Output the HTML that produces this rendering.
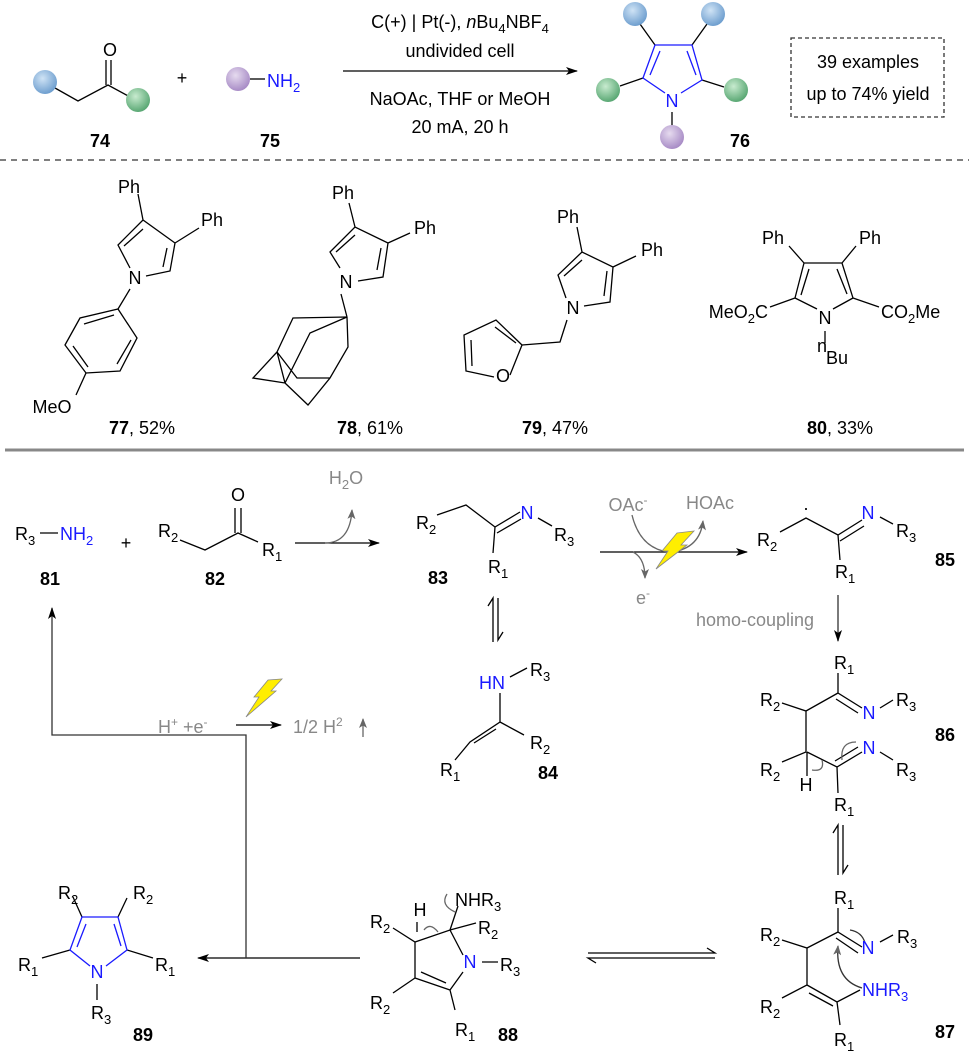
<!DOCTYPE html>
<html><head><meta charset="utf-8"><style>
html,body{margin:0;padding:0;background:#fff}
svg{display:block}
text{font-family:"Liberation Sans",Arial,sans-serif;font-size:18px;fill:#000}
.b{font-weight:bold}
.g{fill:#888}
.bl{fill:#1a1aff}
</style></head><body>
<svg width="969" height="1055" viewBox="0 0 969 1055" xmlns="http://www.w3.org/2000/svg">
<defs>
<radialGradient id="gb" cx="40%" cy="35%" r="65%"><stop offset="0" stop-color="#cfe3f5"/><stop offset="1" stop-color="#6f9fcf"/></radialGradient>
<radialGradient id="gg" cx="40%" cy="35%" r="65%"><stop offset="0" stop-color="#c8ebcf"/><stop offset="1" stop-color="#5aa874"/></radialGradient>
<radialGradient id="gp" cx="40%" cy="35%" r="65%"><stop offset="0" stop-color="#e6dbef"/><stop offset="1" stop-color="#a88cc6"/></radialGradient>
<marker id="ah" markerWidth="12" markerHeight="8" refX="11" refY="4" orient="auto" markerUnits="userSpaceOnUse"><path d="M0,0 L12,4 L0,8 L3,4z" fill="#000"/></marker>
<marker id="ahg" markerWidth="10" markerHeight="8" refX="9" refY="4" orient="auto" markerUnits="userSpaceOnUse"><path d="M0,0 L10,4 L0,8 L2.5,4z" fill="#666"/></marker>
</defs>
<g stroke="#000" stroke-width="1.3" fill="none">
<path d="M55,88 L78,101 L108,85 L130,97"/>
<path d="M106,85 V60 M111,85 V60"/>
<path d="M250,79 H265"/>
<path d="M343,71 H577" marker-end="url(#ah)"/>
<path d="M640,24 L655,45 M707,24 L692,45 M620,86 L643,78 M724,87 L702,80 M672,112 V126"/>
<g stroke="#1a1aff"><path d="M665,93 L643,78 L655,45 L692,45 L702,80 L681,93 M650,75 L660,51 M687,51 L696,75"/></g>
<rect x="791" y="38" width="153" height="79" stroke="#333" stroke-dasharray="4,3"/>
</g>
<circle cx="45" cy="82" r="12" fill="url(#gb)"/>
<circle cx="138" cy="100" r="12" fill="url(#gg)"/>
<circle cx="238" cy="79" r="12" fill="url(#gp)"/>
<circle cx="635" cy="14" r="12" fill="url(#gb)"/>
<circle cx="713" cy="14" r="12" fill="url(#gb)"/>
<circle cx="608" cy="90" r="12" fill="url(#gg)"/>
<circle cx="736" cy="90" r="12" fill="url(#gg)"/>
<circle cx="672" cy="137" r="12" fill="url(#gp)"/>
<text x="110" y="56" text-anchor="middle">O</text>
<text x="182" y="84" text-anchor="middle">+</text>
<text x="267" y="87" class="bl">NH<tspan font-size="13" dy="5">2</tspan></text>
<text x="100" y="147" class="b" text-anchor="middle">74</text>
<text x="270" y="147" class="b" text-anchor="middle">75</text>
<text x="672" y="107" class="bl" text-anchor="middle">N</text>
<text x="740" y="147" class="b" text-anchor="middle">76</text>
<text x="460" y="28" text-anchor="middle">C(+) | Pt(-), <tspan font-style="italic">n</tspan>Bu<tspan font-size="13" dy="5">4</tspan><tspan dy="-5">NBF</tspan><tspan font-size="13" dy="5">4</tspan></text>
<text x="460" y="57" text-anchor="middle">undivided cell</text>
<text x="460" y="105" text-anchor="middle">NaOAc, THF or MeOH</text>
<text x="460" y="133" text-anchor="middle">20 mA, 20 h</text>
<text x="868" y="68" text-anchor="middle">39 examples</text>
<text x="868" y="100" text-anchor="middle">up to 74% yield</text>
<line x1="0" y1="160" x2="969" y2="160" stroke="#333" stroke-width="1.2" stroke-dasharray="6,5"/>

<g stroke="#000" stroke-width="1.3" fill="none">
<path d="M130,268 L118,245 L143,220 L175,243 L170,271 L146,276 M124,246 L143,229 M167,248 L163,267 M143,220 L138,194 M175,243 L199,228"/>
<path d="M130,289 L118,309"/>
<path d="M118,309 L137,338 L120,371 L86,373 L65,345 L80,318 Z"/>
<path d="M131,340 L117,364 M73,346 L88,367 M84,324 L114,315 M86,373 L76,395"/>
<path d="M340,268 L330,252 L355,227 L388,243 L383,277 L358,281 M336,252 L355,235 M381,248 L377,270 M355,227 L349,203 M388,243 L410,233 M341,294 L347,317"/>
<path d="M347,317 L293,318 L277,352 L253,378 L285,383 L277,352 M285,383 L308,405 L330,378 L348,347 L347,317 M347,317 L310,333 L285,383 M277,352 L297,378 L330,378"/>
<path d="M566,298 L558,275 L582,252 L613,267 L610,302 L584,306 M564,276 L582,260 M607,271 L604,296 M582,252 L577,227 M613,267 L636,256 M567,320 L560,342 L522,345"/>
<path d="M522,345 L496,320 L464,335 L466,371 L494,377 M510,375 L522,345 M516,343 L495,327 M471,340 L472,366"/>
<path d="M817,309 L795,298 L804,263 L842,263 L853,298 L833,309 M801,295 L809,269 M837,269 L847,294 M804,263 L789,246 M842,263 L856,246 M795,298 L770,307 M853,298 L879,307 M825,331 V343"/>
</g>
<text x="129" y="193" text-anchor="middle">Ph</text>
<text x="212" y="226" text-anchor="middle">Ph</text>
<text x="135" y="284" text-anchor="middle">N</text>
<text x="52" y="413" text-anchor="middle">MeO</text>
<text x="142" y="434" text-anchor="middle"><tspan class="b">77</tspan>, 52%</text>
<text x="343" y="199" text-anchor="middle">Ph</text>
<text x="425" y="234" text-anchor="middle">Ph</text>
<text x="346" y="288" text-anchor="middle">N</text>
<text x="370" y="434" text-anchor="middle"><tspan class="b">78</tspan>, 61%</text>
<text x="568" y="223" text-anchor="middle">Ph</text>
<text x="652" y="256" text-anchor="middle">Ph</text>
<text x="573" y="314" text-anchor="middle">N</text>
<text x="503" y="382" text-anchor="middle">O</text>
<text x="555" y="434" text-anchor="middle"><tspan class="b">79</tspan>, 47%</text>
<text x="773" y="244" text-anchor="middle">Ph</text>
<text x="870" y="244" text-anchor="middle">Ph</text>
<text x="768" y="318" text-anchor="end">MeO<tspan font-size="13" dy="5">2</tspan><tspan dy="-5">C</tspan></text>
<text x="881" y="318">CO<tspan font-size="13" dy="5">2</tspan><tspan dy="-5">Me</tspan></text>
<text x="825" y="324" text-anchor="middle">N</text>
<text x="817" y="352" font-size="12">n</text>
<text x="826" y="364">Bu</text>
<text x="840" y="434" text-anchor="middle"><tspan class="b">80</tspan>, 33%</text>
<line x1="5" y1="450" x2="964" y2="450" stroke="#888" stroke-width="3"/>

<g stroke="#000" stroke-width="1.3" fill="none">
<path d="M40,533 H58"/>
<path d="M180,540 L205,550 L238,533 L258,542 M235,533 V508 M241,533 V508"/>
<path d="M295,543 H379" marker-end="url(#ah)"/>
<path d="M325,543 Q350,543 352,510" stroke="#666" marker-end="url(#ahg)"/>
<path d="M437,515 L466,505 L495,527 L520,512 M497,533 L521,519 M538,518 L552,526 M495,527 L493,553"/>
<path d="M493,642 V598 L488,606 M498,598 V640 L503,632"/>
<path d="M510,677 L527,668 M500,693 V722 L470,742 L455,760 M496,729 L474,743 M500,722 L524,735"/>
<path d="M600,552 H747" marker-end="url(#ah)"/>
<path d="M632,515 Q640,548 668,552" stroke="#666"/>
<path d="M672,552 Q700,548 703,521" stroke="#666" marker-end="url(#ahg)"/>
<path d="M633,552 Q645,558 645,578" stroke="#666" marker-end="url(#ahg)"/>
<path d="M780,532 L806,518 L838,535 L862,520 M840,541 L864,526 M880,517 L893,524 M838,535 L840,560"/>
<path d="M838,595 V641" stroke="#333" marker-end="url(#ah)"/>
<path d="M838,673 V693 L862,708 M836,699 L858,713 M880,708 L893,700 M838,693 L806,711 L782,703 M806,711 V752 L782,762 M807,752 L837,767 L862,752 M835,761 L858,747 M880,752 L893,760 M807,752 V776 M837,767 L838,793"/>
<path d="M842,760 Q840,742 856,742" stroke="#666"/>
<path d="M812,770 Q825,772 822,760" stroke="#666"/>
<path d="M838,875 V825 L833,833 M843,825 V873 L848,865"/>
<path d="M838,908 V932 L862,947 M836,938 L858,953 M880,942 L893,935 M838,932 L807,948 L782,940 M807,948 V985 L782,998 M807,985 L837,1002 L860,990 M809,993 L833,1006 M837,1002 L840,1025"/>
<path d="M862,988 Q835,980 838,946" stroke="#333" marker-end="url(#ahg)"/>
<path d="M850,930 Q862,932 865,943" stroke="#333"/>
<path d="M588,953 H715 L707,948 M715,958 H588 L596,963"/>
<path d="M393,928 L415,942 L450,930 L463,955 M450,990 L463,972 M415,942 V978 L450,990 M421,972 L446,983 M415,978 L393,993 M450,990 L455,1010 M450,930 L458,906 M450,930 L476,923 M482,962 H498 M417,932 L417,922"/>
<path d="M424,930 Q430,922 438,932" stroke="#666"/>
<path d="M455,912 Q440,905 447,894" stroke="#666"/>
<path d="M360,958 H198" marker-end="url(#ah)"/>
<path d="M246,958 V735 H52 V608" stroke="#333" marker-end="url(#ah)"/>
<path d="M236,725 H281" marker-end="url(#ah)"/>
<path d="M363,737 V719" stroke="#666" marker-end="url(#ahg)"/>
<path d="M82,917 L73,897 M118,917 L127,898 M70,950 L42,958 M127,950 L153,958 M97,984 V1000"/>
<g stroke="#1a1aff"><path d="M90,966 L70,950 L82,917 L118,917 L127,950 L106,966 M77,947 L86,924 M114,924 L121,946"/></g>
</g>
<text x="15" y="540">R<tspan font-size="13" dy="5">3</tspan></text>
<text x="60" y="540" class="bl">NH<tspan font-size="13" dy="5">2</tspan></text>
<text x="126" y="549" text-anchor="middle">+</text>
<text x="158" y="537">R<tspan font-size="13" dy="5">2</tspan></text>
<text x="238" y="501" text-anchor="middle">O</text>
<text x="262" y="556">R<tspan font-size="13" dy="5">1</tspan></text>
<text x="346" y="484" text-anchor="middle" class="g">H<tspan font-size="13" dy="5">2</tspan><tspan dy="-5">O</tspan></text>
<text x="50" y="585" class="b" text-anchor="middle">81</text>
<text x="215" y="585" class="b" text-anchor="middle">82</text>
<text x="416" y="529">R<tspan font-size="13" dy="5">2</tspan></text>
<text x="527" y="519" class="bl" text-anchor="middle">N</text>
<text x="554" y="541">R<tspan font-size="13" dy="5">3</tspan></text>
<text x="488" y="573">R<tspan font-size="13" dy="5">1</tspan></text>
<text x="438" y="584" class="b" text-anchor="middle">83</text>
<text x="492" y="689" class="bl" text-anchor="middle">HN</text>
<text x="530" y="676">R<tspan font-size="13" dy="5">3</tspan></text>
<text x="440" y="776">R<tspan font-size="13" dy="5">1</tspan></text>
<text x="530" y="749">R<tspan font-size="13" dy="5">2</tspan></text>
<text x="548" y="779" class="b" text-anchor="middle">84</text>
<text x="628" y="511" text-anchor="middle" class="g">OAc<tspan font-size="12" dy="-7">-</tspan></text>
<text x="710" y="509" text-anchor="middle" class="g">HOAc</text>
<text x="643" y="604" text-anchor="middle" class="g">e<tspan font-size="12" dy="-7">-</tspan></text>
<polygon points="677,533 694,531 681,545 687,545 656,569 668,551 662,551" fill="#ffee00" stroke="#888" stroke-width="0.8"/>
<text x="755" y="626" text-anchor="middle" class="g">homo-coupling</text>
<text x="806" y="514" text-anchor="middle" font-size="20">·</text>
<text x="757" y="546">R<tspan font-size="13" dy="5">2</tspan></text>
<text x="868" y="519" class="bl" text-anchor="middle">N</text>
<text x="896" y="537">R<tspan font-size="13" dy="5">3</tspan></text>
<text x="835" y="578">R<tspan font-size="13" dy="5">1</tspan></text>
<text x="945" y="566" class="b" text-anchor="middle">85</text>
<text x="834" y="669">R<tspan font-size="13" dy="5">1</tspan></text>
<text x="760" y="706">R<tspan font-size="13" dy="5">2</tspan></text>
<text x="869" y="719" class="bl" text-anchor="middle">N</text>
<text x="896" y="706">R<tspan font-size="13" dy="5">3</tspan></text>
<text x="945" y="741" class="b" text-anchor="middle">86</text>
<text x="760" y="776">R<tspan font-size="13" dy="5">2</tspan></text>
<text x="869" y="754" class="bl" text-anchor="middle">N</text>
<text x="896" y="776">R<tspan font-size="13" dy="5">3</tspan></text>
<text x="806" y="791" text-anchor="middle">H</text>
<text x="834" y="811">R<tspan font-size="13" dy="5">1</tspan></text>
<text x="834" y="904">R<tspan font-size="13" dy="5">1</tspan></text>
<text x="760" y="941">R<tspan font-size="13" dy="5">2</tspan></text>
<text x="868" y="954" class="bl" text-anchor="middle">N</text>
<text x="897" y="943">R<tspan font-size="13" dy="5">3</tspan></text>
<text x="862" y="996" class="bl">NHR<tspan font-size="13" dy="5">3</tspan></text>
<text x="760" y="1013">R<tspan font-size="13" dy="5">2</tspan></text>
<text x="834" y="1046">R<tspan font-size="13" dy="5">1</tspan></text>
<text x="945" y="1038" class="b" text-anchor="middle">87</text>
<text x="158" y="733" class="g">H<tspan font-size="12" dy="-7">+</tspan><tspan dy="7">  +e</tspan><tspan font-size="12" dy="-7">-</tspan></text>
<polygon points="268,680 282,679 271,691 276,691 246,717 259,697 254,697" fill="#ffee00" stroke="#888" stroke-width="0.8"/>
<text x="293" y="733" class="g">1/2 H<tspan font-size="12" dy="-7">2</tspan></text>
<text x="370" y="928">R<tspan font-size="13" dy="5">2</tspan></text>
<text x="420" y="916" text-anchor="middle">H</text>
<text x="455" y="906">NHR<tspan font-size="13" dy="5">3</tspan></text>
<text x="478" y="934">R<tspan font-size="13" dy="5">2</tspan></text>
<text x="470" y="968" class="bl" text-anchor="middle">N</text>
<text x="500" y="971">R<tspan font-size="13" dy="5">3</tspan></text>
<text x="370" y="1009">R<tspan font-size="13" dy="5">2</tspan></text>
<text x="455" y="1036">R<tspan font-size="13" dy="5">1</tspan></text>
<text x="508" y="1041" class="b" text-anchor="middle">88</text>
<text x="58" y="899">R<tspan font-size="13" dy="5">2</tspan></text>
<text x="133" y="899">R<tspan font-size="13" dy="5">2</tspan></text>
<text x="18" y="971">R<tspan font-size="13" dy="5">1</tspan></text>
<text x="155" y="971">R<tspan font-size="13" dy="5">1</tspan></text>
<text x="97" y="978" class="bl" text-anchor="middle">N</text>
<text x="91" y="1019">R<tspan font-size="13" dy="5">3</tspan></text>
<text x="143" y="1041" class="b" text-anchor="middle">89</text>
</svg>
</body></html>
